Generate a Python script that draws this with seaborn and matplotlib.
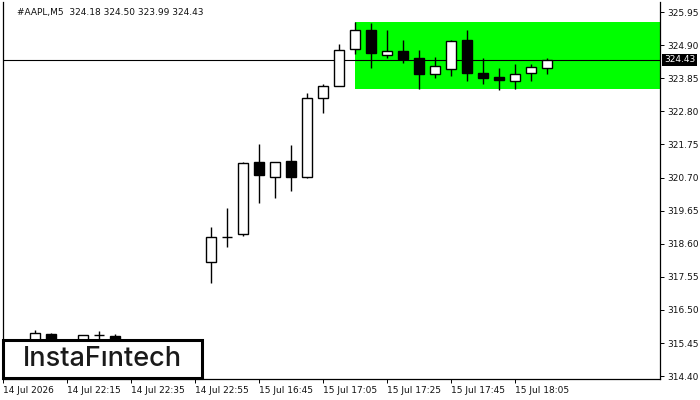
import matplotlib
matplotlib.use("Agg")
import matplotlib.pyplot as plt
from matplotlib.patches import Rectangle
import seaborn as sns
import numpy as np

# ---- data ----
bar_idx = list(range(35))
opens  = [315.30, 315.38, 315.45, 315.73, 315.42, 315.40, 315.70, 315.68, 315.45, 315.35, 315.30, 315.25, 315.40,
          318.01, 318.83, 318.90, 321.19, 320.72, 321.22, 320.73, 323.21, 323.62,
          324.77, 325.38, 324.58, 324.71, 324.49, 323.99, 324.13, 325.06, 324.02, 323.90, 323.77, 324.02, 324.18]
highs  = [315.45, 315.50, 315.86, 315.77, 315.50, 315.70, 315.83, 315.73, 315.56, 315.45, 315.40, 315.56, 315.50,
          319.12, 319.73, 321.19, 321.78, 321.21, 321.73, 323.37, 323.66, 324.93,
          325.64, 325.59, 325.38, 325.06, 324.74, 324.52, 325.06, 325.38, 324.49, 324.17, 324.30, 324.30, 324.50]
lows   = [315.20, 315.30, 315.40, 315.35, 315.30, 315.35, 315.50, 315.40, 315.30, 315.20, 315.15, 315.20, 315.30,
          317.36, 318.50, 318.85, 319.88, 320.06, 320.28, 320.69, 322.76, 323.60,
          324.61, 324.18, 324.48, 324.34, 323.52, 323.87, 323.93, 323.77, 323.68, 323.48, 323.52, 323.77, 323.99]
closes = [315.38, 315.45, 315.77, 315.42, 315.35, 315.70, 315.70, 315.45, 315.35, 315.30, 315.25, 315.40, 315.45,
          318.83, 318.83, 321.15, 320.79, 321.21, 320.72, 323.24, 323.61, 324.74,
          325.38, 324.66, 324.71, 324.46, 323.99, 324.24, 325.03, 324.02, 323.87, 323.80, 323.99, 324.20, 324.43]

xtick_pos = [0, 4, 8, 12, 16, 20, 24, 28, 32]
xtick_labels = ["14 Jul 2026", "14 Jul 22:15", "14 Jul 22:35", "14 Jul 22:55", "15 Jul 16:45",
                "15 Jul 17:05", "15 Jul 17:25", "15 Jul 17:45", "15 Jul 18:05"]
ytick_vals = [325.95, 324.90, 323.85, 322.80, 321.75, 320.70, 319.65, 318.60, 317.55, 316.50, 315.45, 314.40]

zone_start = 22
zone_top = 325.64
zone_bottom = 323.50
last_price = 324.43
header = "#AAPL,M5  324.18 324.50 323.99 324.43"
logo = "InstaFıntech"

# ---- plot ----
sns.set_theme(style="white")
plt.rcParams['font.family'] = ['DejaVu Sans']

fig = plt.figure(figsize=(7, 4), dpi=100)
ax = fig.add_axes([3/700, 21/400, 657/700, 377/400])

xmax = 41.06
ax.set_xlim(0, xmax)
ax.set_ylim(314.31, 326.27)

# green zone
ax.fill_between([zone_start, xmax], zone_bottom, zone_top, color="#00ff00", lw=0, zorder=1)
# price line
ax.axhline(last_price, color="black", lw=0.8, zorder=2)

o = np.array(opens); c = np.array(closes); h = np.array(highs); l = np.array(lows)
x = np.array(bar_idx)
ax.vlines(x, l, h, color="black", lw=1.0, zorder=3)
bull = c >= o
ax.bar(x, np.abs(c - o), bottom=np.minimum(o, c), width=0.62,
       color=np.where(bull, "white", "black"), edgecolor="black", lw=1.0, zorder=4)

# axes styling
for s in ["left", "bottom", "right"]:
    ax.spines[s].set_visible(True)
    ax.spines[s].set_color("black")
    ax.spines[s].set_linewidth(0.9)
ax.spines["top"].set_visible(False)

ax.yaxis.tick_right()
ax.set_yticks(ytick_vals)
ax.set_yticklabels([f"{v:.2f}" for v in ytick_vals], fontsize=6.5, color="#111111")
ax.set_xticks(xtick_pos)
ax.set_xticklabels(xtick_labels, fontsize=6.5, color="#111111")
for lab in ax.get_xticklabels():
    lab.set_ha("left")
ax.tick_params(axis="y", which="both", right=True, left=False, length=3, width=0.7, pad=2, colors="black",
               labelcolor="#111111")
ax.tick_params(axis="x", which="both", bottom=True, length=3, width=0.7, pad=2, colors="black",
               labelcolor="#111111")
ax.grid(False)

# price tag
ax.annotate(f"{last_price:.2f}", xy=(1.0, last_price), xycoords=("axes fraction", "data"),
            xytext=(3, 0), textcoords="offset points", va="center", ha="left",
            fontsize=6.5, color="white",
            bbox=dict(boxstyle="square,pad=0.2", fc="black", ec="none"), annotation_clip=False, zorder=10)

# header
fig.text(17/700, 1 - 12/400, header, fontsize=6.5, color="#111111", va="center", ha="left")

# logo box
rect = Rectangle((3/700, 22/400), 199/700, 38/400, transform=fig.transFigure,
                 facecolor="white", edgecolor="black", lw=2.2, zorder=20, clip_on=False)
ax.add_artist(rect)
ax.text(102/700, (400 - 359)/400, logo, transform=fig.transFigure, fontsize=19.5,
        family="Inter", fontweight="medium", color="#1a1a1a", ha="center", va="center", zorder=21)

fig.savefig("out.png", dpi=100)
